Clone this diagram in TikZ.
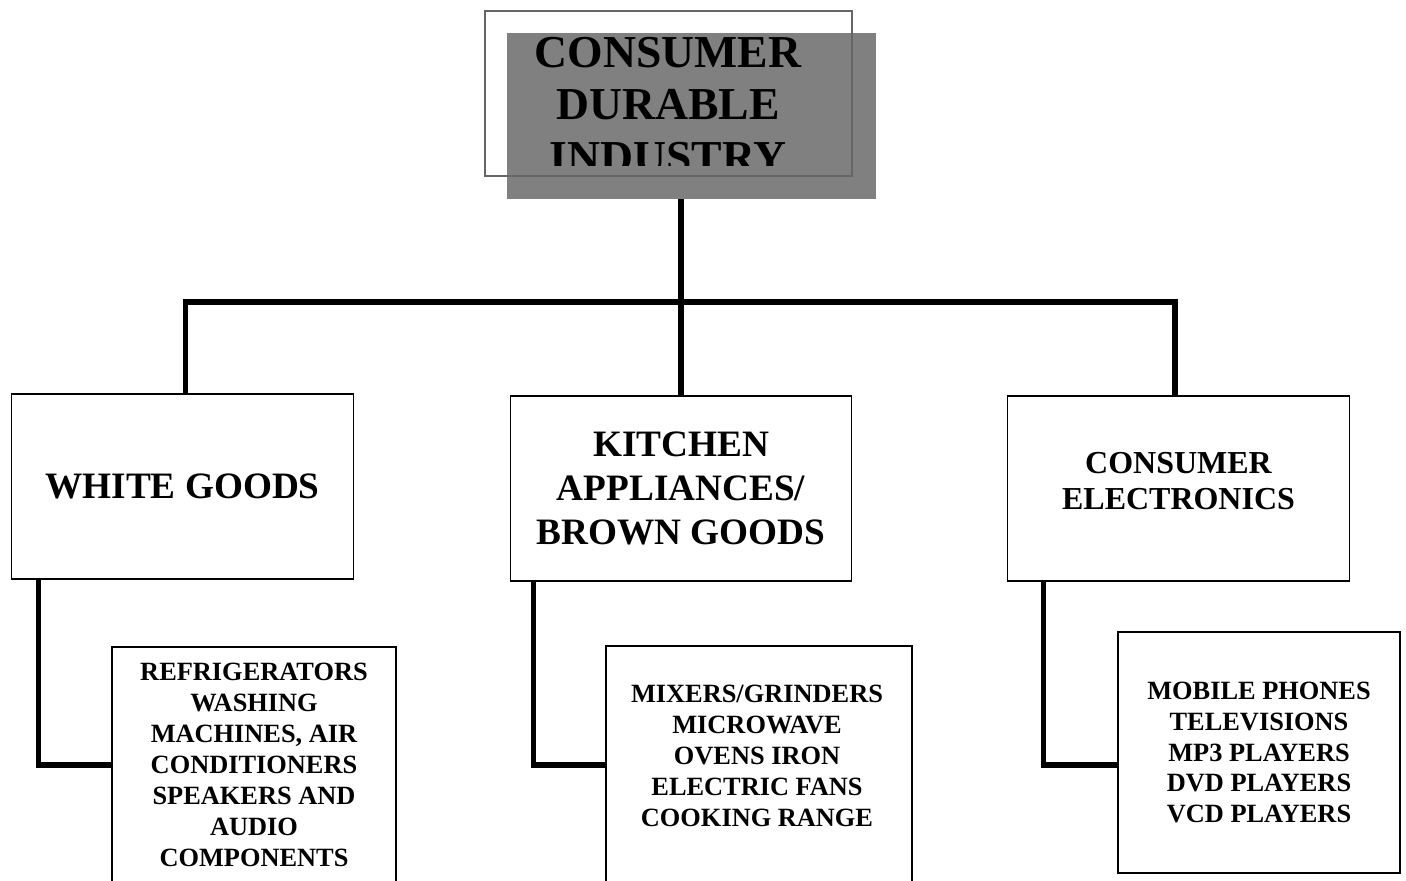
\documentclass[tikz,border=0pt]{standalone}
\usepackage{fontspec}
\setmainfont{Liberation Serif}
\definecolor{framegray}{gray}{0.4}
\definecolor{shadegray}{gray}{0.5}
\begin{document}
\begin{tikzpicture}[
        every node/.style = {font=\bfseries},
        box/.style = {draw, line width=0.6pt, minimum width=6.83cm, minimum height=3.7cm, align=center, inner sep=0pt},
        listbox/.style = {draw, line width=0.6pt, align=center, inner sep=0pt, font=\fontsize{15}{17.6}\selectfont\bfseries},
        link/.style = {line width=2.9pt}
    ]
    \clip (0,0) rectangle (28.12,-17.6);
    \node [fill=shadegray, minimum width=7.38cm, minimum height=3.32cm, inner sep=0pt] (shade) at (13.83,-2.32) {};
    \begin{scope}
        \clip (9.74,-0.26) rectangle (17,-3.3);
        \node [align=center, font=\fontsize{26}{30}\selectfont\bfseries] (title) at (13.36,-2.1) {CONSUMER\\DURABLE\\INDUSTRY};
    \end{scope}
    \node [draw=framegray, line width=1.1pt, minimum width=7.34cm, minimum height=3.3cm, inner sep=0pt] (frame) at (13.37,-1.87) {};

    \node [box, font=\fontsize{21.2}{25}\selectfont\bfseries] (white) at (3.65,-9.73) {WHITE GOODS};
    \node [box, font=\fontsize{21.2}{25}\selectfont\bfseries] (kitchen) at (13.62,-9.77) {KITCHEN\\APPLIANCES/\\BROWN GOODS};
    \node [box, font=\fontsize{18.2}{20.3}\selectfont\bfseries] (elec) at (23.57,-9.77) {CONSUMER\\ELECTRONICS\\[-0.4cm]};

    \coordinate (bus) at (13.62,-6.04);
    \draw [link] (shade.south -| kitchen.north) -- (kitchen.north);
    \draw [link] ([xshift=0.06cm]white.north) -- ([xshift=0.06cm]white.north |- bus)
                -- ([xshift=-0.07cm]elec.north |- bus) -- ([xshift=-0.07cm]elec.north);

    \node [listbox, minimum width=5.68cm, minimum height=4.72cm] (whitelist) at (5.08,-15.3) {REFRIGERATORS\\WASHING\\MACHINES, AIR\\CONDITIONERS\\SPEAKERS AND\\AUDIO\\COMPONENTS};
    \node [listbox, minimum width=6.12cm, minimum height=5.08cm] (kitbox) at (15.18,-15.46) {};
    \node [align=center, font=\fontsize{15}{17.6}\selectfont\bfseries] (kitlist) at (15.14,-15.12) {MIXERS/GRINDERS\\MICROWAVE\\OVENS IRON\\ELECTRIC FANS\\COOKING RANGE};
    \node [listbox, minimum width=5.64cm, minimum height=4.82cm] (eleclist) at (25.18,-15.05) {MOBILE PHONES\\TELEVISIONS\\MP3 PLAYERS\\DVD PLAYERS\\VCD PLAYERS};

    \draw [link] ([xshift=0.55cm]white.south west) |- (whitelist.west);
    \draw [link] ([xshift=0.47cm]kitchen.south west) |- (kitbox.west |- whitelist.west);
    \draw [link] ([xshift=0.73cm]elec.south west) |- ([yshift=-0.25cm]eleclist.west);
\end{tikzpicture}
\end{document}
